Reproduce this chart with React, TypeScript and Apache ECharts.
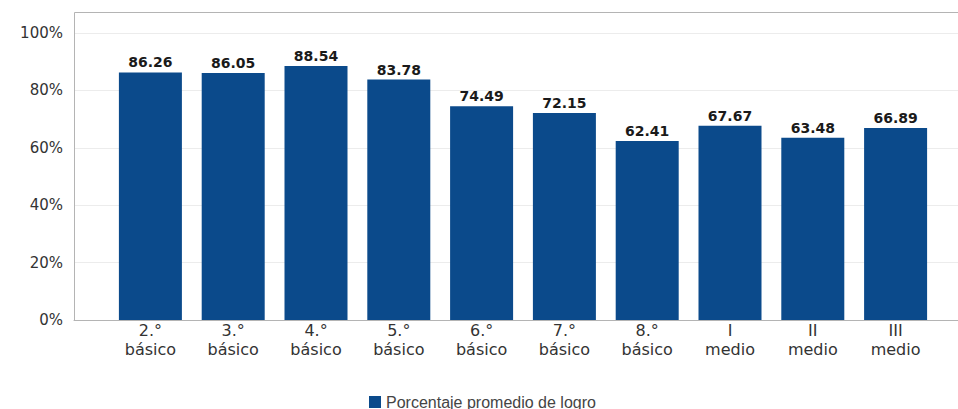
import React, { useEffect, useRef } from "react";
import * as echarts from "echarts";

const categories = ["2.°\nbásico", "3.°\nbásico", "4.°\nbásico", "5.°\nbásico", "6.°\nbásico", "7.°\nbásico", "8.°\nbásico", "I\nmedio", "II\nmedio", "III\nmedio"];
const logro = [86.26, 86.05, 88.54, 83.78, 74.49, 72.15, 62.41, 67.67, 63.48, 66.89];
const seriesName = "Porcentaje promedio de logro";

export default function App() {
  const ref = useRef<HTMLDivElement>(null);
  useEffect(() => {
    if (!ref.current) return;
    const chart = echarts.init(ref.current, null, { renderer: "svg" });
    chart.setOption({
      animation: false,
      backgroundColor: "#ffffff",
      grid: [
        { left: 74, right: 0, top: 33, bottom: 89 },
        { left: 109, right: 21, top: 33, bottom: 89 },
      ],
      xAxis: [
        {
          gridIndex: 0,
          type: "category",
          data: [""],
          axisLine: { show: true, lineStyle: { color: "#b4b4b4", width: 1 } },
          axisTick: { show: false },
          axisLabel: { show: false },
        },
        {
          gridIndex: 1,
          type: "category",
          data: categories,
          axisLine: { show: false },
          axisTick: { show: false },
          axisLabel: {
            color: "#333333",
            fontFamily: "DejaVu Sans",
            fontSize: 16,
            lineHeight: 19,
            margin: 1,
            interval: 0,
          },
        },
      ],
      yAxis: [
        {
          gridIndex: 0,
          type: "value",
          min: 0,
          max: 100,
          interval: 20,
          axisLine: { show: true, lineStyle: { color: "#b4b4b4", width: 1 } },
          axisTick: { show: false },
          axisLabel: {
            formatter: "{value}%",
            color: "#333333",
            fontFamily: "DejaVu Sans",
            fontSize: 15,
            margin: 11,
          },
          splitLine: { show: true, lineStyle: { color: "#ececec", width: 1 } },
        },
        { gridIndex: 1, type: "value", min: 0, max: 100, show: false },
      ],
      legend: {
        data: [seriesName],
        left: 369,
        top: 394,
        padding: 0,
        icon: "rect",
        itemWidth: 12,
        itemHeight: 12,
        itemGap: 8,
        textStyle: { color: "#444444", fontFamily: "Liberation Sans", fontSize: 16 },
      },
      graphic: [
        {
          type: "polyline",
          shape: { points: [[74.5, 320], [74.5, 12.5], [958, 12.5]] },
          style: { stroke: "#b4b4b4", lineWidth: 1, fill: "none" },
          silent: true,
        },
      ],
      series: [
        {
          name: seriesName,
          type: "bar",
          xAxisIndex: 1,
          yAxisIndex: 1,
          data: logro,
          barWidth: 63,
          itemStyle: { color: "#0b4a8b" },
          label: {
            show: true,
            position: "top",
            distance: 3,
            color: "#1a1a1a",
            fontFamily: "DejaVu Sans",
            fontWeight: "bold",
            fontSize: 14,
            formatter: (p: any) => p.value.toFixed(2),
          },
        },
      ],
    });
    return () => chart.dispose();
  }, []);
  return <div ref={ref} style={{ position: "fixed", left: 0, top: 0, width: 958, height: 409 }} />;
}
